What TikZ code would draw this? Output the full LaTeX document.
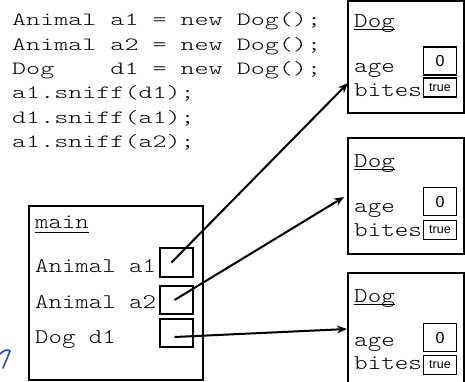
\documentclass[tikz,border=0pt]{standalone}
\usepackage{fontspec}
\setmainfont{Liberation Sans}
\newfontfamily\codefont{lmmonolt10-regular.otf}[FakeStretch=1.43]
\newfontfamily\boxfont{lmmonolt10-regular.otf}[FakeStretch=1.23]
\usetikzlibrary{arrows.meta}

\begin{document}
\begin{tikzpicture}[x=1pt,y=-1pt,
  frame/.style={draw, line width=1.5pt, inner sep=0pt},
  code/.style={anchor=base west, inner sep=0pt, font=\fontsize{18.7}{22}\selectfont\codefont},
  vartext/.style={anchor=base west, inner sep=0pt, font=\fontsize{20.8}{25}\selectfont\boxfont},
  field/.style={anchor=base west, inner sep=0pt, font=\fontsize{21}{25}\selectfont\boxfont},
  slot/.style={draw, line width=1.5pt, minimum width=33pt, inner sep=0pt},
  num/.style={slot, minimum height=28pt, font=\fontsize{16}{18}\selectfont},
  flag/.style={slot, minimum height=19pt, font=\fontsize{12.5}{14}\selectfont},
  uline/.style={line width=1pt},
  ref/.style={-{Stealth[length=10pt,width=8pt]}, line width=2pt},
]
\useasboundingbox (0,0) rectangle (465,381);
\clip (0,0) rectangle (465,381);

% source code
\node[code] (c1) at (12,25.7)  {Animal a1 = new Dog();};
\node[code] (c2) at (12,50.1)  {Animal a2 = new Dog();};
\node[code] (c3) at (12,74.5)  {Dog~~~~d1 = new Dog();};
\node[code] (c4) at (12,98.9)  {a1.sniff(d1);};
\node[code] (c5) at (12,123.3) {d1.sniff(a1);};
\node[code] (c6) at (12,147.7) {a1.sniff(a2);};

% stack frame of main
\node[frame, minimum width=174pt, minimum height=174pt] (main) at (116,293) {};
\node[vartext] (mainlbl) at (35,228) {main};
\draw[uline] ([yshift=-4pt]mainlbl.base west) -- ([yshift=-4pt]mainlbl.base east);
\node[vartext] (va1) at (35,272) {Animal a1};
\node[vartext] (va2) at (35,308) {Animal a2};
\node[vartext] (vd1) at (35,343) {Dog d1};
\node[slot, minimum height=29pt] (sa1) at (176.5,262.5) {};
\node[slot, minimum height=28pt] (sa2) at (176.5,300) {};
\node[slot, minimum height=28pt] (sd1) at (176.5,333) {};

% Dog objects on the heap
\node[frame, minimum width=116pt, minimum height=112pt] (dog1) at (406,57) {};
\node[frame, minimum width=116pt, minimum height=116pt] (dog2) at (406,196) {};
\node[frame, minimum width=116pt, minimum height=116pt] (dog3) at (406,331) {};

\node[field] (t1) at (354,27) {Dog};
\draw[uline] ([yshift=-2.5pt]t1.base west) -- ([yshift=-2.5pt]t1.base east);
\node[field] (g1) at (354,72) {age};
\node[field] (b1) at (354,96) {bites};
\node[num]  (n1) at (440,61) {0};
\node[flag] (f1) at (440,87.5) {true};

\node[field] (t2) at (354,167) {Dog};
\draw[uline] ([yshift=-2.5pt]t2.base west) -- ([yshift=-2.5pt]t2.base east);
\node[field] (g2) at (354,212) {age};
\node[field] (b2) at (354,236) {bites};
\node[num]  (n2) at (440,201.5) {0};
\node[flag] (f2) at (440,230) {true};

\node[field] (t3) at (354,302) {Dog};
\draw[uline] ([yshift=-2.5pt]t3.base west) -- ([yshift=-2.5pt]t3.base east);
\node[field] (g3) at (354,346) {age};
\node[field] (b3) at (354,369.5) {bites};
\node[num]  (n3) at (440,337.5) {0};
\node[flag] (f3) at (440,365) {true};

% references
\coordinate (e1) at (348,83);
\coordinate (e2) at (344,197);
\coordinate (e3) at (347,329);
\draw[ref] ([xshift=-5pt]sa1.center) -- (e1);
\draw[ref] ([xshift=-2pt]sa2.center) -- (e2);
\draw[ref] ([xshift=-2pt,yshift=-4pt]sd1.center) -- (e3);

% pen stroke at the left margin
\draw[line width=1.6pt, color={rgb,255:red,40;green,70;blue,190}, line cap=round]
  (0,354) .. controls (4,350) and (8,349) .. (10,351) -- (3,368);
\end{tikzpicture}
\end{document}
